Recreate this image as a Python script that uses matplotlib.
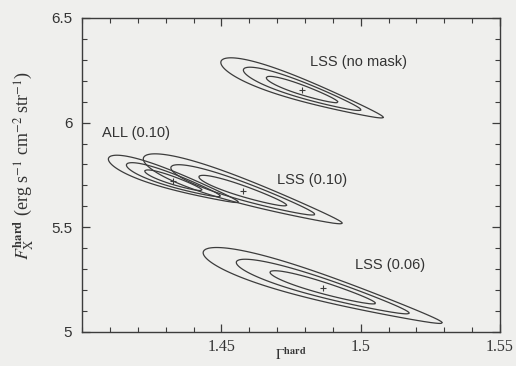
import numpy as np
import matplotlib
matplotlib.use("Agg")
import matplotlib.pyplot as plt
from matplotlib.ticker import MultipleLocator, FormatStrFormatter, FixedLocator

plt.rcParams["mathtext.fontset"] = "stix"

# -------- fit results --------
names = ["LSS (no mask)", "ALL (0.10)", "LSS (0.10)", "LSS (0.06)"]
gamma_best = [1.479, 1.4328, 1.4577, 1.4864]
flux_best = [6.156, 5.723, 5.673, 5.211]
sig_gamma = [0.0085, 0.0068, 0.0104, 0.0125]
sig_flux = [0.016, 0.013, 0.018, 0.019]
slope = [-4.5, -4.4, -4.3, -3.9]       # degeneracy direction dF/dGamma
taper = [0.15, 0.15, 0.15, 0.15]       # contours narrow toward high Gamma
dchi2_levels = [2.30, 6.17, 11.8]

label_x = [1.4818, 1.4072, 1.4700, 1.4980]
label_y = [6.29, 5.95, 5.726, 5.32]

xlim = (1.40, 1.55)
ylim = (5.0, 6.5)
x_major = [1.45, 1.5, 1.55]

bg = "#efefed"
ink = "#3c3c3c"

fig = plt.figure(figsize=(5.16, 3.66), dpi=100, facecolor=bg)
ax = fig.add_axes([0.159, 0.093, 0.810, 0.858], facecolor=bg)

gx = np.linspace(xlim[0], xlim[1], 301)
gy = np.linspace(ylim[0], ylim[1], 301)
G, F = np.meshgrid(gx, gy)

for i in range(len(names)):
    dg = G - gamma_best[i]
    u = dg / sig_gamma[i]
    v = ((F - flux_best[i]) - slope[i] * dg) / sig_flux[i]
    w = np.clip(1.0 - taper[i] * u, 0.2, None)
    chi2 = u ** 2 + (v / w) ** 2
    ax.contour(G, F, chi2, levels=dchi2_levels, colors=ink, linewidths=0.9)
    ax.plot(gamma_best[i], flux_best[i], marker="+", color=ink, ms=4, mew=0.8)
    ax.text(label_x[i], label_y[i], names[i], family="Liberation Sans",
            fontsize=10.5, color="#333333", ha="left", va="center")

ax.set_xlim(*xlim)
ax.set_ylim(*ylim)
ax.xaxis.set_major_locator(FixedLocator(x_major))
ax.xaxis.set_minor_locator(MultipleLocator(0.01))
ax.xaxis.set_major_formatter(FormatStrFormatter("%g"))
ax.yaxis.set_major_locator(MultipleLocator(0.5))
ax.yaxis.set_minor_locator(MultipleLocator(0.1))
ax.yaxis.set_major_formatter(FormatStrFormatter("%g"))

ax.tick_params(which="both", direction="in", top=True, right=True, color=ink)
ax.tick_params(which="major", length=6, width=0.9)
ax.tick_params(which="minor", length=3.5, width=0.8)
ax.tick_params(axis="y", pad=7, labelsize=11, labelcolor="#333333")
ax.tick_params(axis="x", pad=5, labelsize=11.5, labelcolor="#333333")
for lab in ax.get_xticklabels():
    lab.set_family("Liberation Serif")
for lab in ax.get_yticklabels():
    lab.set_family("Liberation Sans")
for sp in ax.spines.values():
    sp.set_color(ink)
    sp.set_linewidth(1.0)

ax.set_ylabel(r"$F_{\rm X}^{\bf hard}$ (erg s$^{-1}$ cm$^{-2}$ str$^{-1}$)",
              family="Liberation Serif", fontsize=13, color="#333333")
ax.yaxis.set_label_coords(-0.11, 0.53)
ax.set_xlabel(r"$\Gamma^{\bf hard}$", family="Liberation Serif", fontsize=10.5,
              color="#333333")
ax.xaxis.set_label_coords(0.5, -0.045)

fig.savefig("out.png", dpi=100, facecolor=bg)
